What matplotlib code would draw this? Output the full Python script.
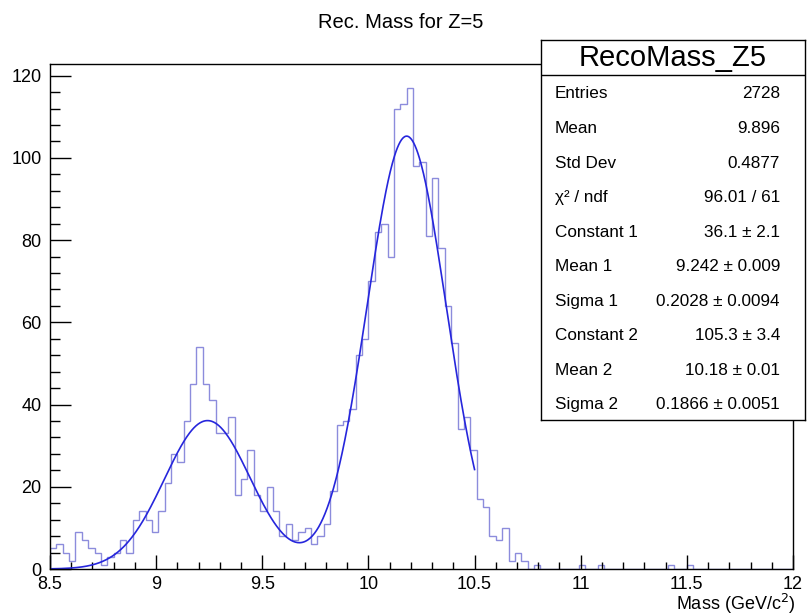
import numpy as np
import matplotlib.pyplot as plt
from matplotlib.ticker import MultipleLocator, FixedLocator, FixedFormatter

plt.rcParams['font.family'] = ['Liberation Sans', 'DejaVu Sans']

# histogram: 0.03 GeV/c^2 bins starting at 8.5
bin_width = 0.03
x_low = 8.5
counts = [
    5, 6, 4, 2, 9, 7, 5, 4, 1, 3,            # 8.50 - 8.80
    4, 7, 4, 12, 14, 12, 9, 14, 21, 28,      # 8.80 - 9.10
    26, 36, 45, 54, 45, 41, 33, 33, 37, 18,  # 9.10 - 9.40
    22, 29, 18, 14, 20, 14, 8, 11, 7, 9,     # 9.40 - 9.70
    10, 6, 8, 11, 19, 35, 36, 39, 52, 56,    # 9.70 - 10.00
    70, 82, 84, 76, 112, 113, 117, 98, 99, 81,  # 10.00 - 10.30
    95, 78, 64, 55, 34, 37, 29, 17, 15, 8,   # 10.30 - 10.60
    7, 10, 2, 4, 2, 0, 1, 0, 0, 0,           # 10.60 - 10.90
    0, 0, 0, 1, 0, 0, 1, 0, 0, 0,            # 10.90 - 11.20
    0, 0, 0, 0, 0, 0, 0, 1, 0, 0,            # 11.20 - 11.50
    1, 0, 0, 0, 0, 0, 0, 0, 0, 0,            # 11.50 - 11.80
    0, 0, 0, 0, 0, 0, 0,                     # 11.80 - 12.01
]

# double gaussian fit result
fit_range = (8.5, 10.5)
fit_const = [36.1, 105.3]
fit_mean = [9.242, 10.18]
fit_sigma = [0.2028, 0.1866]

stat_title = "RecoMass_Z5"
stat_labels = ["Entries", "Mean", "Std Dev", "\u03c7\u00b2 / ndf",
               "Constant 1", "Mean 1", "Sigma 1",
               "Constant 2", "Mean 2", "Sigma 2"]
stat_values = ["2728", "9.896", "0.4877", "96.01 / 61",
               "36.1 \u00b1 2.1", "9.242 \u00b1 0.009", "0.2028 \u00b1 0.0094",
               "105.3 \u00b1 3.4", "10.18 \u00b1 0.01", "0.1866 \u00b1 0.0051"]

x_ticks = [8.5, 9, 9.5, 10, 10.5, 11, 11.5, 12]
x_ticklabels = ["8.5", "9", "9.5", "10", "10.5", "11", "11.5", "12"]

W, H = 807, 616
fig = plt.figure(figsize=(W / 100, H / 100), dpi=100)
ax = fig.add_axes([50 / W, 47 / H, 743 / W, 505 / H])

edges = x_low + bin_width * np.arange(len(counts) + 1)
ax.stairs(counts, edges, color='#8c8cdc', linewidth=1.0, baseline=0)

xf = np.linspace(fit_range[0], fit_range[1], 600)
yf = np.zeros_like(xf)
for c, m, s in zip(fit_const, fit_mean, fit_sigma):
    yf += c * np.exp(-0.5 * ((xf - m) / s) ** 2)
ax.plot(xf, yf, color='#2626dc', linewidth=1.2)

ax.set_xlim(8.5, 12)
ax.set_ylim(0, 1.05 * max(counts))

ax.xaxis.set_major_locator(FixedLocator(x_ticks))
ax.xaxis.set_major_formatter(FixedFormatter(x_ticklabels))
ax.xaxis.set_minor_locator(MultipleLocator(0.1))
ax.yaxis.set_major_locator(MultipleLocator(20))
ax.yaxis.set_minor_locator(MultipleLocator(4))
ax.tick_params(axis='x', which='major', direction='in', length=10, width=1,
               labelsize=13, pad=5, top=False)
ax.tick_params(axis='x', which='minor', direction='in', length=5, width=1, top=False)
ax.tick_params(axis='y', which='major', direction='in', length=15, width=1,
               labelsize=13, pad=6, right=False)
ax.tick_params(axis='y', which='minor', direction='in', length=7.5, width=1, right=False)
for sp in ax.spines.values():
    sp.set_linewidth(1)

# axis title sits at the right end, just under the tick labels
fig.text(796 / W, 1 - 604 / H, "Mass (GeV/c$^{2}$)", ha='right', va='center',
         fontsize=13)

fig.text(401 / W, 1 - 22 / H, "Rec. Mass for Z=5", ha='center', va='center',
         fontsize=14.5)

# statistics box
sb = fig.add_axes([541 / W, (H - 420) / H, 264 / W, 380 / H])
sb.set_xlim(541, 805)
sb.set_ylim(420, 40)
sb.set_xticks([])
sb.set_yticks([])
sb.set_facecolor('white')
for sp in sb.spines.values():
    sp.set_linewidth(1)
sb.axhline(75, color='black', linewidth=1)
sb.text(673, 58, stat_title, ha='center', va='center', fontsize=21)
for i, (lab, val) in enumerate(zip(stat_labels, stat_values)):
    y = 94 + 34.55 * i
    sb.text(555, y, lab, ha='left', va='center', fontsize=12.3)
    sb.text(780, y, val, ha='right', va='center', fontsize=12.3)

fig.savefig('out.png', dpi=100)
